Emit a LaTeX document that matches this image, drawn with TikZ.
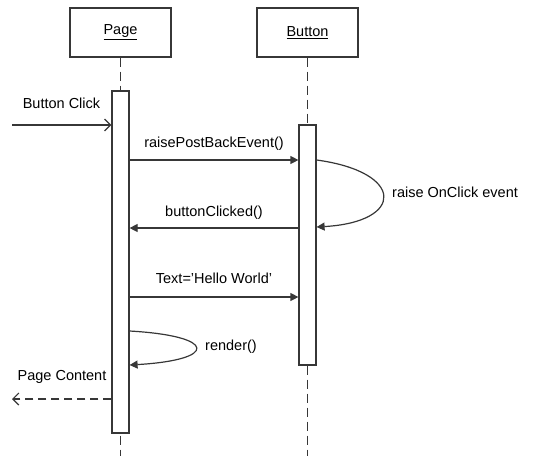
\documentclass[tikz,border=0pt]{standalone}
\usepackage{fontspec}
\setmainfont{Liberation Sans}
\usepackage{xcolor}
\usepackage{tikz}
\usetikzlibrary{arrows.meta,positioning}
\definecolor{lncol}{RGB}{55,55,55}
\tikzset{obj/.style={rectangle,draw=lncol,line width=1.2pt,minimum width=101pt,minimum height=49pt,inner sep=0pt},
  act/.style={rectangle,draw=lncol,line width=1.2pt,fill=white,minimum width=17pt,inner sep=0pt},
  life/.style={draw=lncol,line width=1.2pt,dash pattern=on 9pt off 5pt},
  msg/.style={draw=lncol,line width=1.2pt,-{Triangle[length=8pt,width=8pt]}},
  ext/.style={draw=lncol,line width=1.2pt,-{Straight Barb[length=6pt,width=12pt]}},
  lbl/.style={inner sep=1pt,font=\fontsize{14.5}{17}\selectfont}}

\begin{document}
\begin{tikzpicture}[x=1pt,y=-1pt]
        \useasboundingbox (0,0) rectangle (535,456);
        \node[obj] (page) at (120.5,32.5) {\fontsize{14.5}{17}\selectfont\underline{Page}};
        \node[obj] (button) at (307.5,32.5) {\fontsize{14.5}{17}\selectfont\underline{Button}};
        \coordinate (pageend) at (120.5,456);
        \coordinate (buttonend) at (307.5,456);
        \coordinate (clickin) at (12,125);
        \coordinate (contentout) at (12,399);

        \draw [life] (page) -- (pageend);
        \draw [life] (button) -- (buttonend);
        \node[act,minimum height=342pt] (pageact) at (120.5,262) {};
        \node[act,minimum height=240pt] (buttonact) at (307.5,245) {};

        \draw [ext] (clickin) -- (pageact.west |- clickin);
        \node[lbl] (click) at (61.5,103) {Button Click};

        \draw [msg] (pageact.east |- 0,160) to node[lbl,above=8pt]{raisePostBackEvent()} (buttonact.west |- 0,160);
        \draw [msg] (buttonact.east |- 0,160) .. controls (405,172) and (405,222) .. (buttonact.east |- 0,227);
        \node[lbl,anchor=west] (onclick) at (391,192) {raise OnClick event};
        \draw [msg] (buttonact.west |- 0,228) to node[lbl,above=7pt]{buttonClicked()} (pageact.east |- 0,228);
        \draw [msg] (pageact.east |- 0,297) to node[lbl,above=12pt]{Text='Hello World'} (buttonact.west |- 0,297);
        \draw [msg] (pageact.east |- 0,331) .. controls (218,336) and (218,360) .. (pageact.east |- 0,365);
        \node[lbl,anchor=west] (render) at (204,347) {render()};
        \draw [ext,dash pattern=on 8pt off 5pt] (pageact.west |- contentout) -- (contentout);
        \node[lbl] (content) at (62,377) {Page Content};
    \end{tikzpicture}
\end{document}
